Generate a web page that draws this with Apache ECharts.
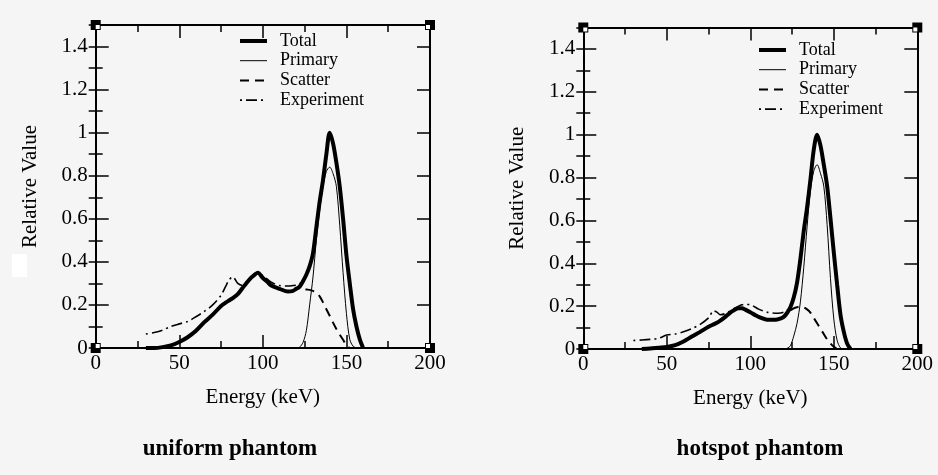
<!DOCTYPE html>
<html>
<head>
<meta charset="utf-8">
<script src="https://cdn.jsdelivr.net/npm/echarts@6/dist/echarts.min.js"></script>
<style>html,body{margin:0;padding:0;background:#f5f5f5}#c{width:938px;height:475px}</style>
</head>
<body>
<div id="c"></div>
<script>
// energy grid (keV), shared by every curve
const energy = [30,35,40,45,50,55,60,65,70,75, 78,80,82,85,88,90,93,95,97,100,
  103,105,110,115,118,120,122,124,126,128, 130,132,134,136,138,140,142,144,146,148,
  150,152,154,156,158,160];

// uniform phantom
const uTotal = [0,0,0.004,0.012,0.028,0.05,0.08,0.12,0.155,0.195, 0.212,0.222,0.232,0.25,0.28,0.3,0.327,0.34,0.35,0.325,
  0.305,0.29,0.275,0.262,0.265,0.275,0.285,0.31,0.34,0.38, 0.44,0.56,0.68,0.78,0.9,1.0,0.95,0.86,0.75,0.6,
  0.43,0.3,0.18,0.1,0.04,0];
const uPrimary = [null,null,null,null,null,null,null,null,null,null, null,null,null,null,null,null,null,null,null,null,
  null,null,null,null,null,0,0.004,0.025,0.08,0.2, 0.33,0.5,0.64,0.75,0.82,0.84,0.81,0.75,0.57,0.35,
  0.16,0.04,0.008,0,null,null];
const uScatter = [0,0,0.004,0.012,0.028,0.05,0.08,0.12,0.155,0.195, 0.212,0.222,0.232,0.25,0.28,0.3,0.327,0.34,0.35,0.325,
  0.305,0.29,0.275,0.262,0.265,0.275,0.28,0.276,0.272,0.27, 0.265,0.258,0.24,0.212,0.18,0.15,0.118,0.088,0.062,0.038,
  0.012,0,null,null,null,null];
const uExperiment = [0.065,0.072,0.083,0.1,0.112,0.123,0.145,0.17,0.2,0.245, 0.29,0.318,0.33,0.3,0.29,0.305,0.33,0.345,0.352,0.335,
  0.318,0.305,0.29,0.288,0.29,0.292,0.298,0.315,0.345,0.385, 0.45,0.57,0.69,0.79,0.91,0.99,0.94,0.85,0.74,0.59,
  0.42,0.29,0.17,0.09,0.035,0];

// hotspot phantom
const hTotal = [null,0,0.002,0.006,0.01,0.018,0.035,0.058,0.08,0.104, 0.115,0.122,0.132,0.15,0.17,0.18,0.19,0.19,0.184,0.172,
  0.158,0.15,0.137,0.136,0.142,0.15,0.168,0.195,0.24,0.31, 0.42,0.55,0.66,0.79,0.93,1.0,0.95,0.86,0.76,0.61,
  0.45,0.3,0.16,0.08,0.025,0];
const hPrimary = [null,null,null,null,null,null,null,null,null,null, null,null,null,null,null,null,null,null,null,null,
  null,null,null,null,null,0,0.003,0.015,0.06,0.12, 0.22,0.38,0.57,0.74,0.83,0.86,0.82,0.76,0.58,0.33,
  0.14,0.04,0.005,0,null,null];
const hScatter = [null,0,0.002,0.006,0.01,0.018,0.035,0.058,0.08,0.104, 0.115,0.122,0.132,0.15,0.17,0.18,0.19,0.19,0.184,0.172,
  0.158,0.15,0.137,0.136,0.142,0.15,0.168,0.18,0.19,0.195, 0.198,0.195,0.185,0.17,0.145,0.12,0.095,0.07,0.045,0.026,
  0.01,0,null,null,null,null];
const hExperiment = [0.04,0.042,0.045,0.05,0.065,0.07,0.08,0.095,0.115,0.145, 0.178,0.172,0.16,0.165,0.178,0.188,0.2,0.206,0.208,0.207,
  0.195,0.186,0.172,0.167,0.168,0.172,0.18,0.2,0.24,0.31, 0.42,0.56,0.68,0.81,0.94,0.99,0.94,0.85,0.74,0.6,
  0.43,0.28,0.15,0.07,0.02,0];

const legendNames = ['Total','Primary','Scatter','Experiment'];
const panelTitles = ['uniform phantom','hotspot phantom'];

const font = 'Liberation Serif';
let chart = echarts.init(document.getElementById('c'));

function pts(vals){
  return energy.map((e,i)=>[e,vals[i]]).filter(p=>p[1]!=null);
}

const styles = {
  Total:{width:4,type:'solid'},
  Primary:{width:1,type:'solid'},
  Scatter:{width:2,type:[9,6]},
  Experiment:{width:1.6,type:[2,4,11,4]}
};

function xAxes(gi){
  let base = {
    gridIndex:gi, type:'value', min:0, max:200, interval:50,
    axisLine:{onZero:false,lineStyle:{color:'#000',width:2}},
    axisTick:{inside:true,length:13,lineStyle:{color:'#000',width:1.5}},
    minorTick:{show:true,splitNumber:2,length:7,lineStyle:{color:'#000',width:1.5}},
    splitLine:{show:false}
  };
  return [
    Object.assign({},base,{position:'bottom',
      axisLabel:{margin:5,color:'#000',fontSize:21,fontFamily:font},
      name:'Energy (keV)',nameLocation:'middle',nameGap:39,
      nameTextStyle:{color:'#000',fontSize:21,fontFamily:font}}),
    Object.assign({},base,{position:'top',axisLabel:{show:false}})
  ];
}

function yAxes(gi){
  let tickL = {gridIndex:gi,type:'value',min:0,max:1.5,splitLine:{show:false}};
  return [
    Object.assign({},tickL,{position:'left',interval:0.2,
      axisLine:{onZero:false,lineStyle:{color:'#000',width:2}},
      axisTick:{inside:true,length:13,lineStyle:{color:'#000',width:1.5}},
      axisLabel:{margin:8,color:'#000',fontSize:21,fontFamily:font,showMaxLabel:false},
      name:'Relative Value',nameLocation:'middle',nameGap:55,
      nameTextStyle:{color:'#000',fontSize:21,fontFamily:font}}),
    Object.assign({},tickL,{position:'left',interval:0.1,
      axisLine:{show:false},
      axisTick:{inside:true,length:7,lineStyle:{color:'#000',width:1.5}},
      axisLabel:{show:false}}),
    Object.assign({},tickL,{position:'right',interval:0.2,
      axisLine:{onZero:false,lineStyle:{color:'#000',width:2}},
      axisTick:{inside:true,length:13,lineStyle:{color:'#000',width:1.5}},
      axisLabel:{show:false}}),
    Object.assign({},tickL,{position:'right',interval:0.1,
      axisLine:{show:false},
      axisTick:{inside:true,length:7,lineStyle:{color:'#000',width:1.5}},
      axisLabel:{show:false}})
  ];
}

function panel(gi,tot,pri,sca,exp){
  let sets = {Experiment:exp,Scatter:sca,Primary:pri,Total:tot};
  return ['Experiment','Scatter','Primary','Total'].map(n=>({
    name:n, type:'line', xAxisIndex:gi*2, yAxisIndex:gi*4,
    data:pts(sets[n]), smooth:0.3, symbol:'none', showSymbol:false,
    lineStyle:{color:'#000',width:styles[n].width,type:styles[n].type},
    itemStyle:{color:'#000'}, silent:true, animation:false
  }));
}

function legend(left,top){
  return {
    left:left, top:top, orient:'vertical', padding:0,
    itemWidth:27, itemHeight:12, itemGap:1.7, selectedMode:false,
    data:legendNames.map(n=>({
      name:n,
      lineStyle:{color:'#000',width:styles[n].width,type:styles[n].type},
      itemStyle:{color:'rgba(0,0,0,0)',borderWidth:0,opacity:0}
    })),
    textStyle:{fontFamily:font,fontSize:18,lineHeight:18,color:'#000',padding:[0,0,0,8]}
  };
}

chart.setOption({
  backgroundColor:'#f5f5f5',
  color:['#000'],
  animation:false,
  grid:[
    {left:95.7,right:938-430,top:25,bottom:475-348},
    {left:583.3,right:938-917.3,top:27.5,bottom:475-349}
  ],
  legend:[legend(238,32),legend(757,41)],
  xAxis:xAxes(0).concat(xAxes(1)),
  yAxis:yAxes(0).concat(yAxes(1)),
  series:panel(0,uTotal,uPrimary,uScatter,uExperiment)
    .concat(panel(1,hTotal,hPrimary,hScatter,hExperiment))
});

// corner markers, panel captions and the little white patch
let g = [];
[0,1].forEach(gi=>{
  [[0,0,1,-1],[200,0,-1,-1],[0,1.5,1,1],[200,1.5,-1,1]].forEach(c=>{
    let p = chart.convertToPixel({xAxisIndex:gi*2,yAxisIndex:gi*4},[c[0],c[1]]);
    g.push({type:'rect',shape:{x:p[0]-5,y:p[1]-5,width:10,height:10},style:{fill:'#000'},z:100});
    g.push({type:'rect',shape:{x:c[2]>0?p[0]:p[0]-4,y:c[3]>0?p[1]:p[1]-4,width:4,height:4},style:{fill:'#fff'},z:101});
  });
});
g.push({type:'text',x:230,y:449,z:100,style:{text:panelTitles[0],align:'center',verticalAlign:'middle',
  fontFamily:font,fontSize:23,fontWeight:'bold',fill:'#000'}});
g.push({type:'text',x:760,y:449,z:100,style:{text:panelTitles[1],align:'center',verticalAlign:'middle',
  fontFamily:font,fontSize:23,fontWeight:'bold',fill:'#000'}});
g.push({type:'rect',shape:{x:12,y:254,width:15,height:23},style:{fill:'#fff'},z:100});
chart.setOption({graphic:g});
</script>
</body>
</html>
